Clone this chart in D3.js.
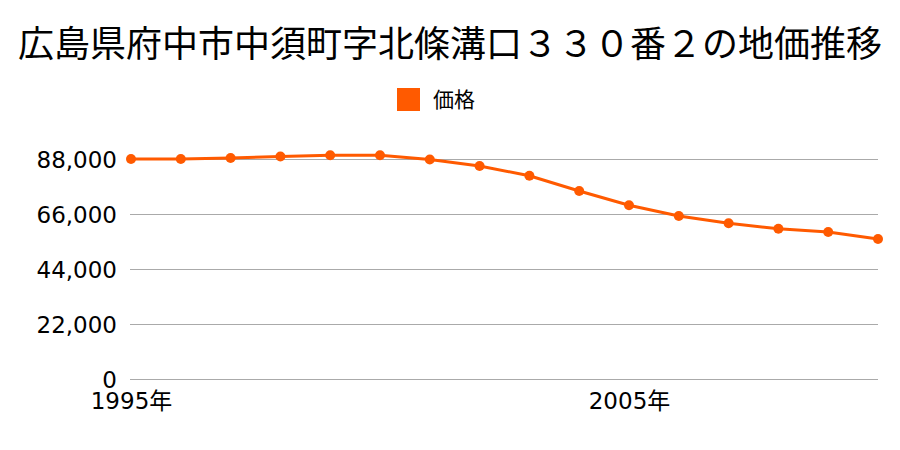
<!DOCTYPE html>
<html><head><meta charset="utf-8">
<script src="https://cdn.jsdelivr.net/npm/d3@7"></script>
<style>body{margin:0;background:#fff}svg{display:block}text{font-family:"Noto Sans CJK JP","Noto Sans",sans-serif;fill:#000}
.tk{font-family:"DejaVu Sans","Noto Sans CJK JP",sans-serif}</style>
</head><body>
<svg id="c" width="900" height="450"></svg>
<script>
const title = "広島県府中市中須町字北條溝口３３０番２の地価推移";
const seriesName = "価格";
const years = [1995,1996,1997,1998,1999,2000,2001,2002,2003,2004,2005,2006,2007,2008,2009,2010];
const prices = [88000,88000,88400,89000,89500,89500,87800,85200,81300,75200,69500,65200,62300,60100,58800,56000];
const yTicks = [0,22000,44000,66000,88000];
const xTickYears = [1995,2005];

const svg = d3.select("#c");
const color = "#ff5a00";
const x = d3.scaleLinear().domain([1995,2010]).range([131,878]);
const y = d3.scaleLinear().domain([0,88000]).range([379,159]);

svg.append("text").attr("x",450).attr("y",57).attr("text-anchor","middle")
  .style("font-size","36px").text(title);

svg.append("rect").attr("x",397).attr("y",88).attr("width",23).attr("height",23).attr("fill",color);
svg.append("text").attr("x",433).attr("y",107).style("font-size","21px").text(seriesName);

const yAxis = d3.axisLeft(y).tickValues(yTicks).tickSize(-(878-130)).tickPadding(13)
  .tickFormat(d3.format(","));
const gy = svg.append("g").attr("transform","translate(130,0)").call(yAxis);
gy.select(".domain").remove();
gy.selectAll(".tick line").attr("stroke","#aaa").attr("stroke-width",1);
gy.selectAll(".tick text").attr("class","tk").style("font-size","23px").attr("fill","#000").attr("dy","0.36em");

const xAxis = d3.axisBottom(x).tickValues(xTickYears).tickSize(0).tickPadding(14)
  .tickFormat(d=>d+"年");
const gx = svg.append("g").attr("transform","translate(0,379)").call(xAxis);
gx.select(".domain").remove();
gx.selectAll(".tick text").attr("class","tk").style("font-size","23px").attr("fill","#000").attr("dy","0.71em");

const data = years.map((yr,i)=>({yr,v:prices[i]}));
svg.append("path").datum(data).attr("fill","none").attr("stroke",color).attr("stroke-width",3)
  .attr("d",d3.line().x(d=>x(d.yr)).y(d=>y(d.v)));
svg.selectAll("circle.pt").data(data).enter().append("circle").attr("class","pt")
  .attr("cx",d=>x(d.yr)).attr("cy",d=>y(d.v)).attr("r",5).attr("fill",color);
</script>
</body></html>
